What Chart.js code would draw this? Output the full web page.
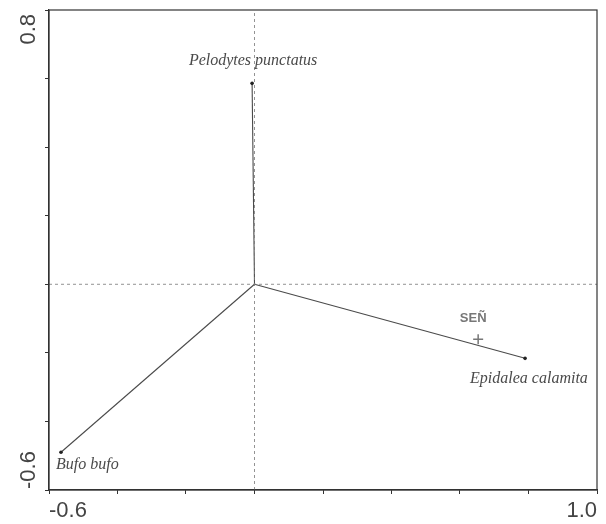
<!DOCTYPE html>
<html>
<head>
<meta charset="utf-8">
<script src="https://cdn.jsdelivr.net/npm/chart.js@4/dist/chart.umd.min.js"></script>
<style>
  html, body { margin: 0; padding: 0; background: #fff; }
  #wrap { width: 606px; height: 524px; }
</style>
</head>
<body>
<div id="wrap"><canvas id="myChart"></canvas></div>
<script>
// species arrows (biplot scores)
let species = ["Pelodytes punctatus", "Bufo bufo", "Epidalea calamita"];
let speciesX = [-0.007, -0.565, 0.79];
let speciesY = [0.586, -0.49, -0.216];

// environmental variable (centroid)
let envName = ["SEÑ"];
let envX = [0.653];
let envY = [-0.16];

// axis range + labelled ticks
let xRange = [-0.6, 1.0];
let yRange = [-0.6, 0.8];
let xTickLabels = ["-0.6", "1.0"];
let yTickLabels = ["-0.6", "0.8"];

let grey = "#4a4a4a";

let datasets = [];
// dashed zero lines
datasets.push({
  type: "line", data: [{x: 0, y: yRange[0]}, {x: 0, y: yRange[1]}],
  borderColor: "#777", borderWidth: 0.8, borderDash: [3, 3], pointRadius: 0
});
datasets.push({
  type: "line", data: [{x: xRange[0], y: 0}, {x: xRange[1], y: 0}],
  borderColor: "#777", borderWidth: 0.8, borderDash: [3, 3], pointRadius: 0
});
// arrows from origin
for (let i = 0; i < species.length; i++) {
  datasets.push({
    type: "line",
    data: [{x: 0, y: 0}, {x: speciesX[i], y: speciesY[i]}],
    borderColor: grey, borderWidth: 1.1,
    pointRadius: [0, 1.8], pointBackgroundColor: "#222", pointBorderWidth: 0
  });
}
// SEÑ marker
datasets.push({
  type: "scatter",
  data: envX.map((v, i) => ({x: v, y: envY[i]})),
  pointStyle: "cross", pointRadius: 5, borderColor: "#777", borderWidth: 1.5
});

// offsets of the text from each tip, in pixels
let speciesLabelPos = [
  {dx: 1, dy: -23, align: "center"},
  {dx: -5, dy: 13, align: "left"},
  {dx: -55, dy: 20, align: "left"}
];

const labelsPlugin = {
  id: "labels",
  afterDraw(chart) {
    const ctx = chart.ctx;
    const xs = chart.scales.x, ys = chart.scales.y;
    const a = chart.chartArea;
    ctx.save();
    // frame
    ctx.strokeStyle = "#333";
    ctx.lineWidth = 1.2;
    ctx.strokeRect(a.left, a.top, a.right - a.left, a.bottom - a.top);

    // species names
    ctx.fillStyle = grey;
    ctx.font = "italic 16px 'Liberation Serif', 'DejaVu Serif', serif";
    ctx.textBaseline = "middle";
    for (let i = 0; i < species.length; i++) {
      const p = speciesLabelPos[i];
      ctx.textAlign = p.align;
      ctx.fillText(species[i], xs.getPixelForValue(speciesX[i]) + p.dx, ys.getPixelForValue(speciesY[i]) + p.dy);
    }
    // SEÑ
    ctx.font = "bold 13px 'Liberation Sans', Arial, sans-serif";
    ctx.fillStyle = "#777";
    ctx.textAlign = "center";
    for (let i = 0; i < envName.length; i++) {
      ctx.fillText(envName[i], xs.getPixelForValue(envX[i]) - 5, ys.getPixelForValue(envY[i]) - 21);
    }

    // rotated y tick labels
    ctx.font = "22px 'Liberation Sans', Arial, sans-serif";
    ctx.fillStyle = "#444";
    ctx.textBaseline = "middle";
    const lx = a.left - 20;
    ctx.save();
    ctx.translate(lx, ys.getPixelForValue(yRange[1]) + 4);
    ctx.rotate(-Math.PI / 2);
    ctx.textAlign = "right";
    ctx.fillText(yTickLabels[1], 0, 0);
    ctx.restore();
    ctx.save();
    ctx.translate(lx, ys.getPixelForValue(yRange[0]) - 1);
    ctx.rotate(-Math.PI / 2);
    ctx.textAlign = "left";
    ctx.fillText(yTickLabels[0], 0, 0);
    ctx.restore();
    ctx.restore();
  }
};

new Chart("myChart", {
  type: "scatter",
  data: { datasets: datasets },
  options: {
    responsive: true,
    maintainAspectRatio: false,
    animation: false,
    layout: { padding: { top: 10, right: 9, left: 0, bottom: 0 } },
    plugins: { legend: { display: false }, tooltip: { enabled: false } },
    scales: {
      x: {
        type: "linear", min: xRange[0], max: xRange[1],
        afterBuildTicks: (s) => { s.ticks = [-0.6, -0.4, -0.2, 0, 0.2, 0.4, 0.6, 0.8, 1.0].map(v => ({value: v})); },
        afterFit: (s) => { s.height = 34; },
        border: { display: true, color: "#333", width: 1.2 },
        grid: { drawOnChartArea: false, tickLength: 4, color: "#333" },
        ticks: {
          align: "inner", maxRotation: 0, autoSkip: false, padding: 4,
          color: "#444",
          font: { size: 22, family: "'Liberation Sans', Arial, sans-serif" },
          callback: (v) => {
            if (Math.abs(v - xRange[0]) < 1e-6) return xTickLabels[0];
            if (Math.abs(v - xRange[1]) < 1e-6) return xTickLabels[1];
            return "";
          }
        }
      },
      y: {
        type: "linear", min: yRange[0], max: yRange[1],
        afterBuildTicks: (s) => { s.ticks = [-0.6, -0.4, -0.2, 0, 0.2, 0.4, 0.6, 0.8].map(v => ({value: v})); },
        afterFit: (s) => { s.width = 49; },
        border: { display: true, color: "#333", width: 1.2 },
        grid: { drawOnChartArea: false, tickLength: 4, color: "#333" },
        ticks: { display: false }
      }
    }
  },
  plugins: [labelsPlugin]
});
</script>
</body>
</html>
